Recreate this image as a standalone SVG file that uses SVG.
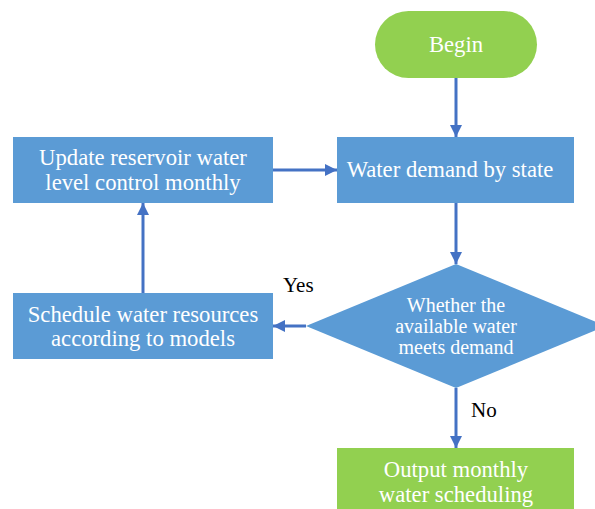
<svg xmlns="http://www.w3.org/2000/svg" width="595" height="509" viewBox="0 0 595 509">
<defs>
<style>
.blue{fill:#5B9BD5;}
.green{fill:#92D050;}
.t{font-family:"Liberation Serif","Times New Roman",serif;font-size:22.7px;fill:#ffffff;text-anchor:middle;}
.td{font-family:"Liberation Serif","Times New Roman",serif;font-size:20px;fill:#ffffff;text-anchor:middle;}
.lbl{font-family:"Liberation Serif","Times New Roman",serif;font-size:21px;fill:#000000;}
.c{stroke:#4472C4;stroke-width:3;fill:none;marker-end:url(#ah);}
</style>
<marker id="ah" viewBox="0 0 10 10" refX="10" refY="5" markerWidth="4" markerHeight="4" markerUnits="strokeWidth" orient="auto">
<path d="M0,0 L10,5 L0,10 z" fill="#4472C4"/>
</marker>
</defs>
<rect width="595" height="509" fill="#ffffff"/>
<g id="connectors">
<line class="c" x1="456" y1="78" x2="456" y2="137"/>
<line class="c" x1="273" y1="170" x2="337" y2="170"/>
<line class="c" x1="456" y1="203" x2="456" y2="264"/>
<line class="c" x1="306" y1="326" x2="273" y2="326"/>
<line class="c" x1="143" y1="293" x2="143" y2="203"/>
<line class="c" x1="456" y1="388" x2="456" y2="448"/>
<text class="lbl" x="283" y="292">Yes</text>
<text class="lbl" x="471" y="417">No</text>
</g>
<g id="begin">
<rect class="green" x="375" y="11" width="162" height="67" rx="33.5"/>
<text class="t" x="456" y="52">Begin</text>
</g>
<g id="demand">
<rect class="blue" x="337" y="137" width="237" height="66"/>
<text class="t" x="450" y="177">Water demand by state</text>
</g>
<g id="update">
<rect class="blue" x="13" y="137" width="260" height="66"/>
<text class="t" x="143" y="165">Update reservoir water</text>
<text class="t" x="143" y="190">level control monthly</text>
</g>
<g id="schedule">
<rect class="blue" x="13" y="293" width="260" height="66"/>
<text class="t" x="143" y="322">Schedule water resources</text>
<text class="t" x="143" y="346">according to models</text>
</g>
<g id="decision">
<polygon class="blue" points="456,264 606,326 456,388 306,326"/>
<text class="td" x="456" y="312">Whether the</text>
<text class="td" x="456" y="333">available water</text>
<text class="td" x="456" y="354">meets demand</text>
</g>
<g id="output">
<rect class="green" x="337" y="448" width="237" height="66"/>
<text class="t" x="456" y="477">Output monthly</text>
<text class="t" x="456" y="502">water scheduling</text>
</g>
</svg>
